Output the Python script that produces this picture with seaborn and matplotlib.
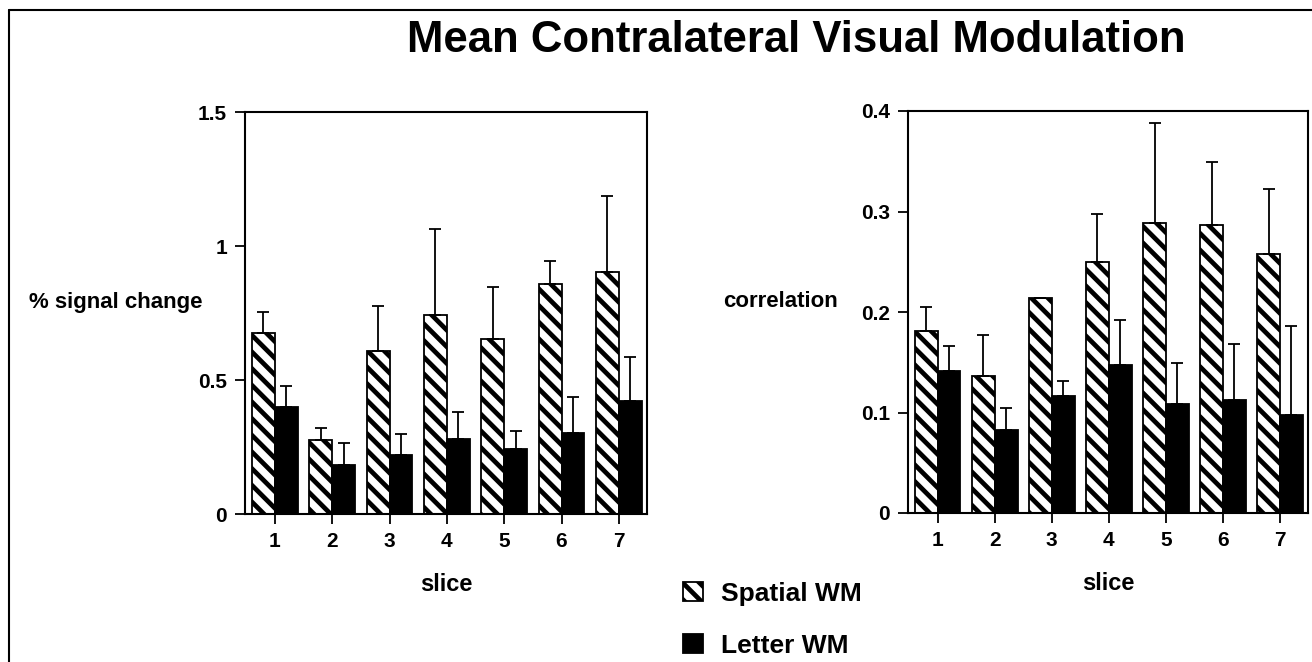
import pandas as pd
import numpy as np
import matplotlib
matplotlib.use("Agg")
import matplotlib.pyplot as plt
import seaborn as sns
from matplotlib.lines import Line2D

# values
slices = ["1", "2", "3", "4", "5", "6", "7"]
conditions = ["Spatial WM", "Letter WM"]

signal_spatial = [0.674, 0.277, 0.608, 0.743, 0.654, 0.859, 0.904]
signal_spatial_err = [0.081, 0.043, 0.169, 0.322, 0.194, 0.085, 0.282]
signal_letter = [0.399, 0.181, 0.219, 0.279, 0.242, 0.304, 0.423]
signal_letter_err = [0.079, 0.083, 0.080, 0.103, 0.066, 0.134, 0.164]

corr_spatial = [0.181, 0.136, 0.214, 0.250, 0.289, 0.287, 0.258]
corr_spatial_err = [0.024, 0.041, 0.0, 0.048, 0.099, 0.062, 0.064]
corr_letter = [0.141, 0.083, 0.116, 0.147, 0.108, 0.112, 0.098]
corr_letter_err = [0.025, 0.021, 0.015, 0.045, 0.041, 0.056, 0.088]

signal_ticks = [0, 0.5, 1, 1.5]
signal_ticklabels = ["0", "0.5", "1", "1.5"]
corr_ticks = [0, 0.1, 0.2, 0.3, 0.4]
corr_ticklabels = ["0", "0.1", "0.2", "0.3", "0.4"]

sns.set_theme(style="ticks")
plt.rcParams["font.family"] = ["Liberation Sans", "DejaVu Sans"]
plt.rcParams["font.weight"] = "bold"
plt.rcParams["text.color"] = "black"
plt.rcParams["axes.labelcolor"] = "black"
plt.rcParams["xtick.color"] = "black"
plt.rcParams["ytick.color"] = "black"
plt.rcParams["hatch.linewidth"] = 3.4
plt.rcParams["hatch.color"] = "black"
plt.rcParams["axes.linewidth"] = 1.5

fig = plt.figure(figsize=(13.12, 6.62), dpi=100)
ax1 = fig.add_axes([245 / 1312, 1 - 514 / 662, 402 / 1312, 402 / 662])
ax2 = fig.add_axes([908 / 1312, 1 - 513 / 662, 400 / 1312, 402 / 662])


def make_df(spatial, letter):
    return pd.DataFrame({
        "slice": slices * 2,
        "value": spatial + letter,
        "cond": [conditions[0]] * len(slices) + [conditions[1]] * len(slices),
    })


def draw_panel(ax, spatial, sp_err, letter, le_err, ticks, ticklabels, ylabel, label_x):
    df = make_df(spatial, letter)
    sns.barplot(data=df, x="slice", y="value", hue="cond", ax=ax,
                palette={"Spatial WM": "white", "Letter WM": "black"},
                edgecolor="black", linewidth=1.3, width=0.8, legend=False,
                errorbar=None)
    for bar in ax.containers[0]:
        bar.set_hatch("\\\\")
    for cont, err in zip(ax.containers, [sp_err, le_err]):
        xs = [b.get_x() + b.get_width() / 2 for b in cont]
        ys = [b.get_height() for b in cont]
        ax.errorbar(xs, ys, yerr=[np.zeros(len(err)), err], fmt="none",
                    ecolor="black", elinewidth=1.3, capsize=4.5, capthick=1.3)
    ax.set_ylim(ticks[0], ticks[-1])
    ax.set_xlim(-0.52, 6.49)
    ax.set_yticks(ticks)
    ax.set_yticklabels(ticklabels)
    ax.tick_params(axis="both", direction="out", length=7, width=1.3,
                   labelsize=15, pad=6, colors="black")
    for lab in ax.get_xticklabels() + ax.get_yticklabels():
        lab.set_fontweight("bold")
    for sp in ax.spines.values():
        sp.set_visible(True)
        sp.set_color("black")
    ax.set_xlabel("slice", fontsize=17, fontweight="bold", labelpad=16)
    ax.set_ylabel(ylabel, fontsize=16, fontweight="bold", rotation=0,
                  ha="right", va="center")
    ax.yaxis.set_label_coords(label_x, 0.525)


draw_panel(ax1, signal_spatial, signal_spatial_err, signal_letter, signal_letter_err,
           signal_ticks, signal_ticklabels, "% signal change", -0.105)
draw_panel(ax2, corr_spatial, corr_spatial_err, corr_letter, corr_letter_err,
           corr_ticks, corr_ticklabels, "correlation", -0.175)

fig.text(796 / 1312, 1 - 40 / 662, "Mean Contralateral Visual Modulation",
         ha="center", va="center", fontsize=31.5, fontweight="bold")

handles = [ax1.containers[0][0], ax1.containers[1][0]]
fig.legend(handles, conditions, loc="upper left",
           bbox_to_anchor=(667 / 1312, 1 - 566 / 662), frameon=False,
           prop={"size": 19, "weight": "bold"}, handlelength=0.75,
           handleheight=0.75, handletextpad=0.7, labelspacing=1.05,
           borderaxespad=0.2)

# page frame
fig.add_artist(Line2D([9 / 1312, 1], [1 - 10 / 662, 1 - 10 / 662],
                      transform=fig.transFigure, color="black", lw=1.5))
fig.add_artist(Line2D([9 / 1312, 9 / 1312], [0, 1 - 10 / 662],
                      transform=fig.transFigure, color="black", lw=1.5))

fig.savefig("out.png", dpi=100)
